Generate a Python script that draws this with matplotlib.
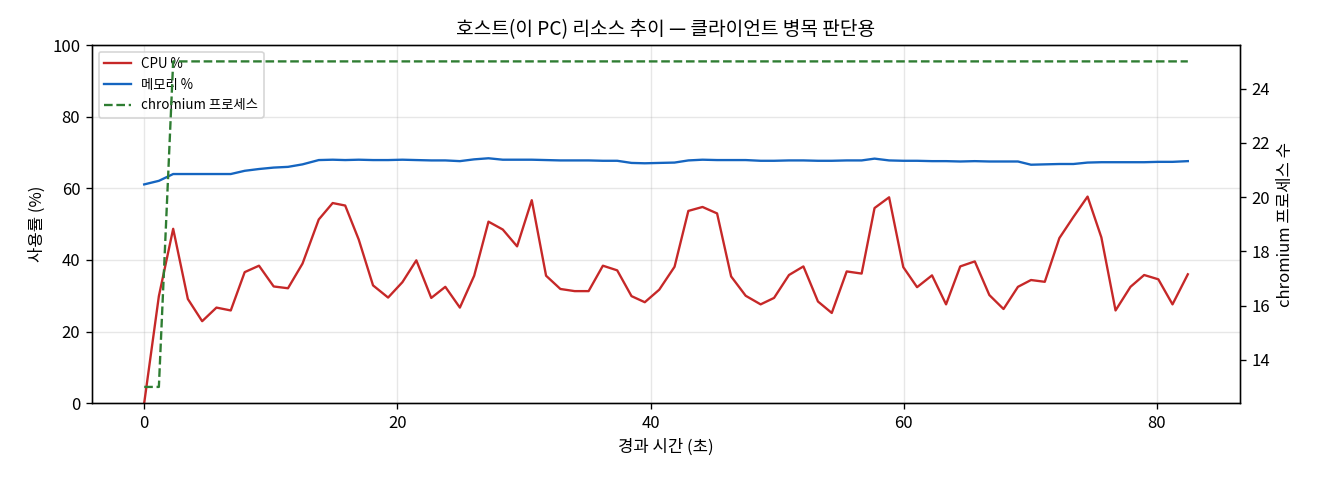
import numpy as np
import matplotlib
matplotlib.use("Agg")
from matplotlib import pyplot as plt

plt.rcParams['font.family'] = ['Noto Sans CJK KR', 'DejaVu Sans']
plt.rcParams['axes.unicode_minus'] = False

# elapsed seconds
t = [0.0, 1.16, 2.29, 3.45, 4.58, 5.71, 6.84, 7.94, 9.07, 10.23,
     11.36, 12.51, 13.79, 14.89, 15.88, 16.95, 18.08, 19.27, 20.40, 21.50,
     22.68, 23.79, 24.94, 26.07, 27.20, 28.33, 29.46, 30.62, 31.75, 32.88,
     34.01, 35.11, 36.24, 37.37, 38.50, 39.55, 40.69, 41.90, 42.99, 44.11,
     45.26, 46.37, 47.52, 48.70, 49.76, 50.94, 52.08, 53.23, 54.32, 55.50,
     56.68, 57.70, 58.85, 59.97, 61.06, 62.24, 63.35, 64.47, 65.62, 66.77,
     67.89, 69.03, 70.06, 71.15, 72.30, 73.41, 74.53, 75.62, 76.74, 77.92,
     79.00, 80.12, 81.24, 82.45]

cpu = [0.0, 29.9, 48.7, 29.1, 22.9, 26.7, 25.9, 36.6, 38.4, 32.6,
       32.1, 39.0, 51.3, 55.9, 55.2, 45.7, 32.9, 29.5, 33.8, 39.9,
       29.4, 32.5, 26.7, 35.6, 50.7, 48.5, 43.8, 56.7, 35.6, 31.9,
       31.3, 31.3, 38.4, 37.1, 29.9, 28.2, 31.7, 38.1, 53.7, 54.8,
       53.0, 35.4, 30.0, 27.6, 29.4, 35.8, 38.2, 28.4, 25.2, 36.8,
       36.2, 54.5, 57.5, 38.0, 32.4, 35.7, 27.6, 38.2, 39.6, 30.2,
       26.3, 32.5, 34.4, 33.9, 46.1, 52.0, 57.7, 46.3, 25.9, 32.5,
       35.8, 34.6, 27.6, 36.0]

mem = [61.1, 62.1, 64.0, 64.0, 64.0, 64.0, 64.0, 64.9, 65.4, 65.8,
       66.0, 66.7, 67.9, 68.0, 67.9, 68.0, 67.9, 67.9, 68.0, 67.9,
       67.8, 67.8, 67.6, 68.1, 68.4, 68.0, 68.0, 68.0, 67.9, 67.8,
       67.8, 67.8, 67.7, 67.7, 67.1, 67.0, 67.1, 67.2, 67.8, 68.0,
       67.9, 67.9, 67.9, 67.7, 67.7, 67.8, 67.8, 67.7, 67.7, 67.8,
       67.8, 68.3, 67.8, 67.7, 67.7, 67.6, 67.6, 67.5, 67.6, 67.5,
       67.5, 67.5, 66.6, 66.7, 66.8, 66.8, 67.2, 67.3, 67.3, 67.3,
       67.3, 67.4, 67.4, 67.6]

procs = [13, 13] + [25] * (len(t) - 2)

fig, ax = plt.subplots(figsize=(11, 4), dpi=120)
l1, = ax.plot(t, cpu, color='#c62828', lw=1.4, label='CPU %')
l2, = ax.plot(t, mem, color='#1565c0', lw=1.4, label='메모리 %')
ax.set_ylim(0, 100)
ax.set_xlabel('경과 시간 (초)', fontsize=10)
ax.set_ylabel('사용률 (%)', fontsize=10)
ax.grid(True, alpha=0.3)
ax.tick_params(labelsize=10)

ax2 = ax.twinx()
l3, = ax2.plot(t, procs, color='#2e7d32', lw=1.4, ls='--', label='chromium 프로세스')
ax2.set_ylabel('chromium 프로세스 수', fontsize=10)
ax2.tick_params(labelsize=10)

ax.legend(handles=[l1, l2, l3], loc='upper left', fontsize=8)
ax.set_title('호스트(이 PC) 리소스 추이 — 클라이언트 병목 판단용', fontsize=11.5)

fig.subplots_adjust(left=0.0697, right=0.9394, top=0.906, bottom=0.160)
fig.savefig('out.png')
